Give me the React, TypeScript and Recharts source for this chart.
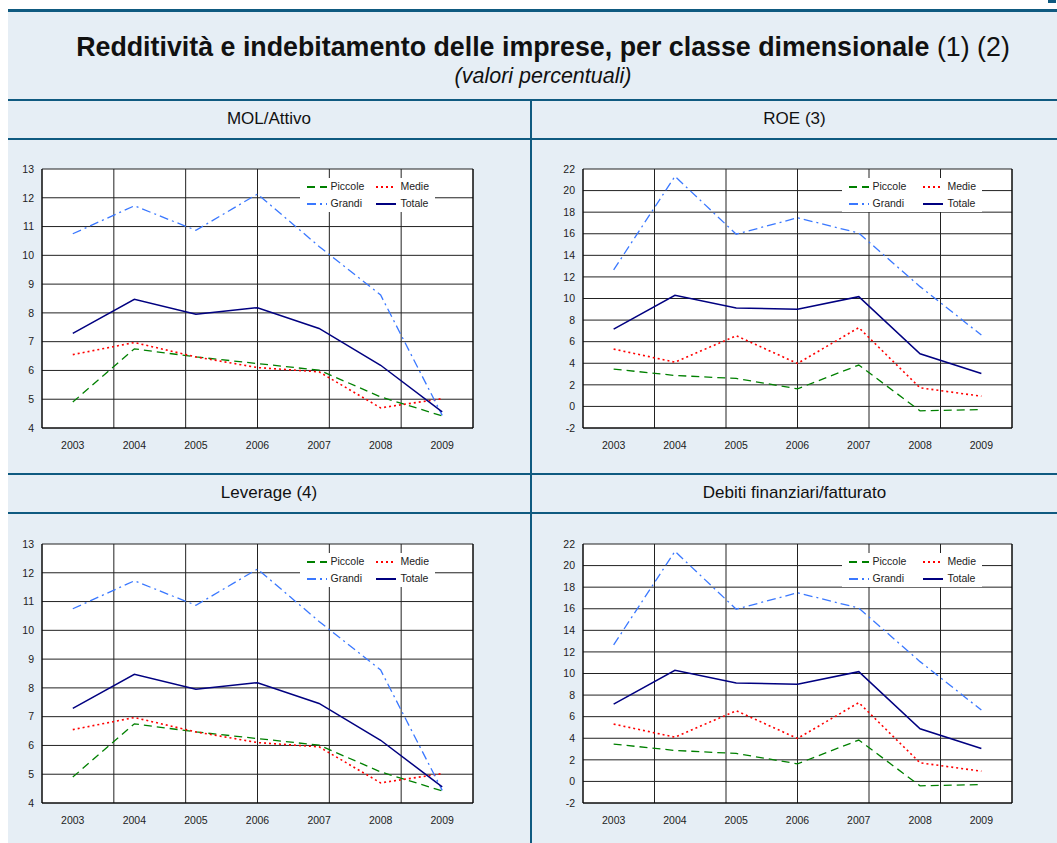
import { CartesianGrid, Line, LineChart, XAxis, YAxis } from 'recharts';

const years = ['2003', '2004', '2005', '2006', '2007', '2008', '2009'];

// MOL/Attivo
const molPiccole = [4.9, 6.75, 6.47, 6.24, 6.01, 5.08, 4.42];
const molMedie = [6.55, 6.97, 6.47, 6.1, 5.95, 4.7, 5.02];
const molGrandi = [10.75, 11.72, 10.87, 12.13, 10.31, 8.62, 4.44];
const molTotale = [7.29, 8.47, 7.95, 8.18, 7.46, 6.18, 4.56];

// ROE
const roePiccole = [3.46, 2.87, 2.59, 1.63, 3.83, -0.41, -0.29];
const roeMedie = [5.31, 4.1, 6.55, 3.98, 7.3, 1.72, 0.95];
const roeGrandi = [12.65, 21.32, 15.96, 17.48, 16.06, 11.1, 6.61];
const roeTotale = [7.17, 10.3, 9.12, 9.0, 10.17, 4.88, 3.05];

// Leverage (same figures as shown in the source)
const levPiccole = [4.9, 6.75, 6.47, 6.24, 6.01, 5.08, 4.42];
const levMedie = [6.55, 6.97, 6.47, 6.1, 5.95, 4.7, 5.02];
const levGrandi = [10.75, 11.72, 10.87, 12.13, 10.31, 8.62, 4.44];
const levTotale = [7.29, 8.47, 7.95, 8.18, 7.46, 6.18, 4.56];

// Debiti finanziari/fatturato
const debPiccole = [3.46, 2.87, 2.59, 1.63, 3.83, -0.41, -0.29];
const debMedie = [5.31, 4.1, 6.55, 3.98, 7.3, 1.72, 0.95];
const debGrandi = [12.65, 21.32, 15.96, 17.48, 16.06, 11.1, 6.61];
const debTotale = [7.17, 10.3, 9.12, 9.0, 10.17, 4.88, 3.05];

const ticksA = [4, 5, 6, 7, 8, 9, 10, 11, 12, 13];
const ticksB = [-2, 0, 2, 4, 6, 8, 10, 12, 14, 16, 18, 20, 22];
const boundaries = [1, 2, 3, 4, 5, 6];

const series = [
  { key: 'piccole', name: 'Piccole', color: '#008000', dash: '8 5', width: 1.3 },
  { key: 'medie', name: 'Medie', color: '#ff0000', dash: '2 3', width: 1.6 },
  { key: 'grandi', name: 'Grandi', color: '#3a78ff', dash: '9 4 2 4', width: 1.3 },
  { key: 'totale', name: 'Totale', color: '#000080', dash: undefined, width: 1.5 },
];

const TEAL = '#0f5a80';
const BG = '#e6eef5';
const FONT = '"Liberation Sans", Arial, sans-serif';

function build(p: number[], m: number[], g: number[], t: number[]) {
  return years.map((year, i) => ({ year, piccole: p[i], medie: m[i], grandi: g[i], totale: t[i] }));
}

function LegendBox({ right, top, gap }: { right: number; top: number; gap: number }) {
  const item = (s: (typeof series)[number]) => (
    <div key={s.key} style={{ display: 'flex', alignItems: 'center', height: 17 }}>
      <svg width={22} height={6} style={{ marginRight: 3 }}>
        <line x1={1} y1={3} x2={21} y2={3} stroke={s.color} strokeWidth={2} strokeDasharray={s.dash} />
      </svg>
      <span>{s.name}</span>
    </div>
  );
  return (
    <div
      style={{
        position: 'absolute',
        right,
        top,
        background: '#fff',
        padding: '0 6px',
        display: 'grid',
        gridTemplateColumns: 'auto auto',
        columnGap: gap,
        fontSize: 10.5,
        color: '#222',
        lineHeight: '17px',
      }}
    >
      {series.map(item)}
    </div>
  );
}

interface PanelProps {
  left: number;
  top: number;
  width: number;
  leftW: number;
  rightW: number;
  data: ReturnType<typeof build>;
  ticks: number[];
  legendRight: number;
  legendGap: number;
}

function Panel({ left, top, width, leftW, rightW, data, ticks, legendRight, legendGap }: PanelProps) {
  const domain: [number, number] = [ticks[0], ticks[ticks.length - 1]];
  const tick = { fontSize: 10.5, fill: '#222' };
  return (
    <div style={{ position: 'absolute', left, top, width, height: 310 }}>
      <LineChart width={width} height={310} data={data} margin={{ top: 19, right: 0, bottom: 0, left: 0 }}>
        <CartesianGrid xAxisId="b" stroke="#222" fill="#fff" />
        <XAxis
          dataKey="year"
          scale="band"
          height={32}
          tickLine={false}
          axisLine={{ stroke: '#000' }}
          tick={tick}
          tickMargin={8}
          interval={0}
        />
        <XAxis xAxisId="b" type="number" domain={[0, 7]} ticks={boundaries} allowDataOverflow hide />
        <YAxis
          width={leftW}
          domain={domain}
          ticks={ticks}
          interval={0}
          tickLine={false}
          axisLine={{ stroke: '#000' }}
          tick={tick}
        />
        <YAxis
          yAxisId="r"
          orientation="right"
          width={rightW}
          domain={domain}
          ticks={ticks}
          interval={0}
          tickLine={false}
          axisLine={{ stroke: '#000' }}
          tick={tick}
        />
        {series.map((s) => (
          <Line
            key={s.key}
            dataKey={s.key}
            name={s.name}
            stroke={s.color}
            strokeWidth={s.width}
            strokeDasharray={s.dash}
            dot={false}
            activeDot={false}
            isAnimationActive={false}
          />
        ))}
      </LineChart>
      <LegendBox right={legendRight} top={28} gap={legendGap} />
    </div>
  );
}

const hLine = (top: number, h = 2) => (
  <div style={{ position: 'absolute', left: 8, right: 0, top, height: h, background: TEAL }} />
);

export default function App() {
  return (
    <div style={{ position: 'absolute', left: 0, top: 0, width: 1057, height: 843, fontFamily: FONT, color: '#111' }}>
      <div style={{ position: 'absolute', left: 8, top: 10, width: 1049, height: 833, background: BG }} />
      <div style={{ position: 'absolute', left: 1048, top: 0, width: 8, height: 3, background: TEAL }} />
      {hLine(9, 3)}
      <div
        style={{
          position: 'absolute',
          left: 18,
          width: 1050,
          top: 32,
          textAlign: 'center',
          fontSize: 26.8,
          lineHeight: '30px',
          whiteSpace: 'nowrap',
        }}
      >
        <b>Redditività e indebitamento delle imprese, per classe dimensionale</b> (1) (2)
      </div>
      <div
        style={{
          position: 'absolute',
          left: 18,
          width: 1050,
          top: 64,
          textAlign: 'center',
          fontSize: 21.5,
          lineHeight: '24px',
          fontStyle: 'italic',
        }}
      >
        (valori percentuali)
      </div>
      {hLine(99)}
      {hLine(138)}
      {hLine(473)}
      {hLine(512)}
      <div style={{ position: 'absolute', left: 530, top: 100, width: 2, height: 743, background: TEAL }} />

      <div style={{ position: 'absolute', left: 8, width: 522, top: 109, textAlign: 'center', fontSize: 17 }}>MOL/Attivo</div>
      <div style={{ position: 'absolute', left: 532, width: 525, top: 109, textAlign: 'center', fontSize: 17 }}>ROE (3)</div>
      <div style={{ position: 'absolute', left: 8, width: 522, top: 483, textAlign: 'center', fontSize: 17 }}>Leverage (4)</div>
      <div style={{ position: 'absolute', left: 532, width: 525, top: 483, textAlign: 'center', fontSize: 17 }}>
        Debiti finanziari/fatturato
      </div>

      <Panel left={0} top={150} width={530} leftW={42} rightW={57} data={build(molPiccole, molMedie, molGrandi, molTotale)} ticks={ticksA} legendRight={95} legendGap={11} />
      <Panel left={531} top={150} width={526} leftW={52} rightW={45} data={build(roePiccole, roeMedie, roeGrandi, roeTotale)} ticks={ticksB} legendRight={75} legendGap={16} />
      <Panel left={0} top={525} width={530} leftW={42} rightW={57} data={build(levPiccole, levMedie, levGrandi, levTotale)} ticks={ticksA} legendRight={95} legendGap={11} />
      <Panel left={531} top={525} width={526} leftW={52} rightW={45} data={build(debPiccole, debMedie, debGrandi, debTotale)} ticks={ticksB} legendRight={75} legendGap={16} />
    </div>
  );
}
